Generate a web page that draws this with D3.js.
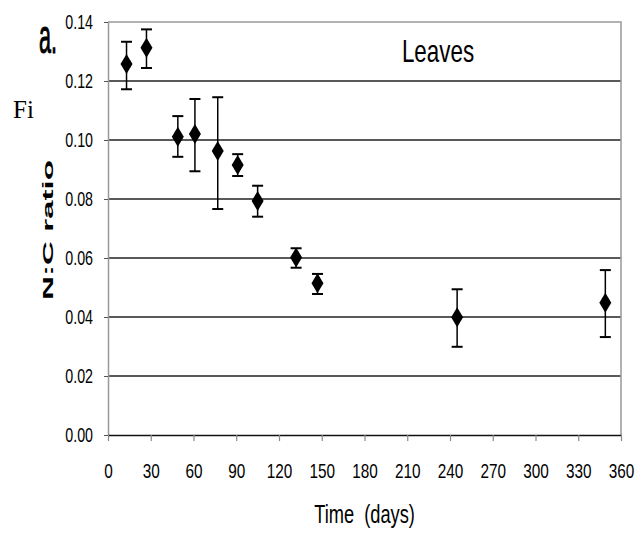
<!DOCTYPE html>
<html>
<head>
<meta charset="utf-8">
<script src="https://cdn.jsdelivr.net/npm/d3@7"></script>
<style>
  body { margin: 0; background: #fff; }
  svg { display: block; }
</style>
</head>
<body>
<script>
// values
const days  = [13, 27, 49, 61, 77, 91, 105, 132, 147, 245, 349];
const ratio = [0.1258, 0.1313, 0.1011, 0.1020, 0.0963, 0.0915, 0.0793, 0.0602, 0.0514, 0.0399, 0.0448];
const upper = [0.1333, 0.1375, 0.1081, 0.1139, 0.1145, 0.0952, 0.0845, 0.0633, 0.0546, 0.0494, 0.0559];
const lower = [0.1172, 0.1244, 0.0943, 0.0894, 0.0766, 0.0878, 0.0740, 0.0567, 0.0478, 0.0299, 0.0332];
const xTicks = d3.range(0, 361, 30);
const yTicks = d3.range(0, 0.1401, 0.02);

const width = 638;
const height = 534;
const margin = { top: 22, right: 17, bottom: 99, left: 108 };
const squeeze = "scale(0.73,1)";
const font = "'Liberation Sans', Arial, sans-serif";

const svg = d3.select("body").append("svg")
  .attr("width", width)
  .attr("height", height);

const x = d3.scaleLinear()
  .domain([0, 360])
  .range([margin.left, width - margin.right]);

const y = d3.scaleLinear()
  .domain([0, 0.14])
  .range([height - margin.bottom, margin.top]);

// gridlines
svg.append("g")
  .selectAll("line")
  .data(yTicks.slice(1, -1))
  .join("line")
    .attr("x1", x(0))
    .attr("x2", x(360))
    .attr("y1", d => y(d))
    .attr("y2", d => y(d))
    .attr("stroke", "#222")
    .attr("stroke-width", 1.3);

// frame: top and right in gray
svg.append("path")
  .attr("d", `M${x(0)},${y(0.14)}H${x(360)}V${y(0)}`)
  .attr("fill", "none")
  .attr("stroke", "#999")
  .attr("stroke-width", 1.5);

// y axis
const yAxis = d3.axisLeft(y)
  .tickValues(yTicks)
  .tickFormat(d3.format(".2f"))
  .tickSizeInner(4)
  .tickSizeOuter(0)
  .tickPadding(16.5);

const gy = svg.append("g")
  .attr("transform", `translate(${margin.left},0)`)
  .call(yAxis);
gy.select(".domain").attr("stroke", "#999").attr("stroke-width", 1.5);
gy.selectAll(".tick line").attr("stroke", "#555");
gy.selectAll("text")
  .attr("transform", squeeze)
  .attr("font-family", font)
  .attr("font-size", 19.5)
  .attr("fill", "#000");

// x axis
const xAxis = d3.axisBottom(x)
  .tickValues(xTicks)
  .tickSizeInner(6)
  .tickSizeOuter(0)
  .tickPadding(22);

const gx = svg.append("g")
  .attr("transform", `translate(0,${height - margin.bottom})`)
  .call(xAxis);
gx.select(".domain").attr("stroke", "#111").attr("stroke-width", 1.5);
gx.selectAll(".tick line").attr("stroke", "#888").attr("stroke-width", 1.2);
gx.selectAll("text")
  .attr("transform", squeeze)
  .attr("font-family", font)
  .attr("font-size", 21)
  .attr("fill", "#000");

// error bars
const bars = svg.append("g")
  .attr("stroke", "#000")
  .attr("stroke-width", 1.5)
  .selectAll("g")
  .data(days)
  .join("g");

bars.append("line")
  .attr("x1", d => x(d)).attr("x2", d => x(d))
  .attr("y1", (d, i) => y(upper[i]))
  .attr("y2", (d, i) => y(lower[i]));
bars.append("line")
  .attr("x1", d => x(d) - 5.5).attr("x2", d => x(d) + 5.5)
  .attr("y1", (d, i) => y(upper[i]))
  .attr("y2", (d, i) => y(upper[i]))
  .attr("stroke-width", 2);
bars.append("line")
  .attr("x1", d => x(d) - 5.5).attr("x2", d => x(d) + 5.5)
  .attr("y1", (d, i) => y(lower[i]))
  .attr("y2", (d, i) => y(lower[i]))
  .attr("stroke-width", 2);

// diamonds
svg.append("g")
  .selectAll("path")
  .data(days)
  .join("path")
    .attr("d", "M0,-10L6,0L0,10L-6,0Z")
    .attr("transform", (d, i) => `translate(${x(d)},${y(ratio[i])})`)
    .attr("fill", "#000");

// texts
svg.append("text")
  .attr("transform", `translate(${x(180)},523) ${squeeze}`)
  .attr("text-anchor", "middle")
  .attr("font-family", font)
  .attr("font-size", 25)
  .attr("xml:space", "preserve")
  .text("Time  (days)");

svg.append("text")
  .attr("transform", `translate(438,62) scale(0.7,1)`)
  .attr("text-anchor", "middle")
  .attr("font-family", font)
  .attr("font-size", 32)
  .text("Leaves");

svg.append("text")
  .attr("transform", `translate(39,53) scale(0.45,1)`)
  .attr("font-family", font)
  .attr("font-size", 48)
  .attr("stroke", "#000")
  .attr("stroke-width", 1)
  .text("a.");

svg.append("text")
  .attr("x", 13)
  .attr("y", 118)
  .attr("font-family", "'Liberation Serif', 'Times New Roman', serif")
  .attr("font-size", 25)
  .text("Fi");

svg.append("text")
  .attr("transform", `translate(52.5,230) rotate(-90)`)
  .attr("text-anchor", "middle")
  .attr("font-family", font)
  .attr("font-weight", "bold")
  .attr("font-size", 15)
  .attr("textLength", 140)
  .attr("lengthAdjust", "spacingAndGlyphs")
  .text("N:C ratio");
</script>
</body>
</html>
